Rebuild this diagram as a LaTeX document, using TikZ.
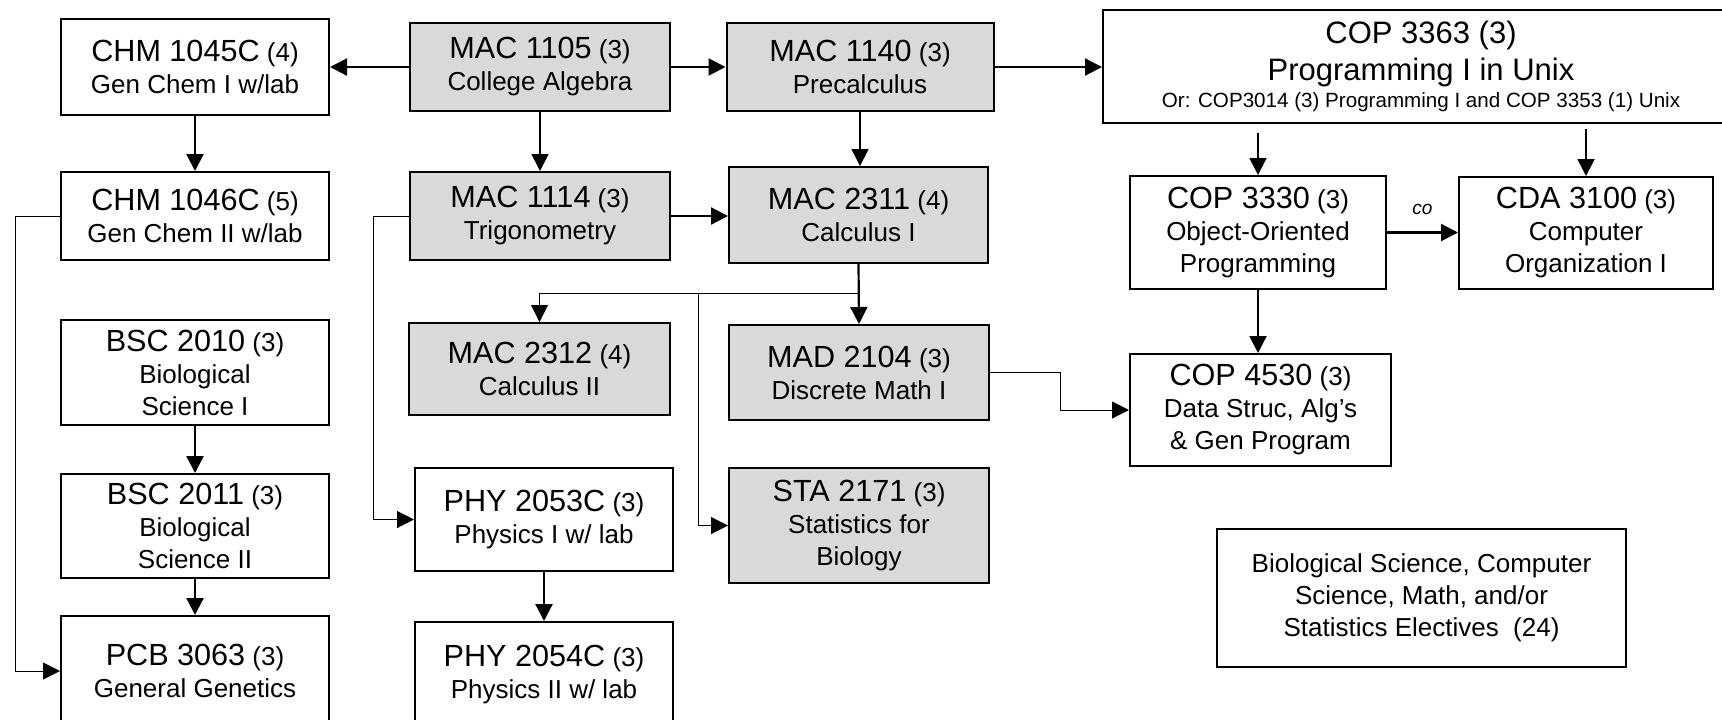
\documentclass[tikz,border=0pt]{standalone}
\usepackage{fontspec}
\setmainfont{Liberation Sans}
\usepackage{xcolor}
\usepackage{tikz}
\usetikzlibrary{arrows.meta,calc,positioning}
\definecolor{mathgray}{RGB}{217,217,217}
\newcommand{\crs}[2]{{\fontsize{15.3}{16}\selectfont #1} (#2)}

\begin{document}
\begin{tikzpicture}[
      x=0.5pt, y=-0.5pt,
      >={Triangle[length=8.5pt, width=8.5pt]},
      course/.style={draw=black, line width=1pt, align=center, inner sep=0pt, font=\fontsize{13}{16}\selectfont},
      mathcourse/.style={course, fill=mathgray},
      prereq/.style={->, line width=1.1pt},
      medprereq/.style={->, line width=0.9pt},
      thinprereq/.style={->, line width=0.5pt},
]
\useasboundingbox (0,0) rectangle (1722,719);

\node[course, minimum width=134pt, minimum height=48pt] (chm1045) at (195,67) {\crs{CHM 1045C}{4}\\Gen Chem I w/lab};
\node[mathcourse, minimum width=130pt, minimum height=44pt] (mac1105) at (540,67) {\crs{MAC 1105}{3}\\College Algebra};
\node[mathcourse, minimum width=133.5pt, minimum height=44pt] (mac1140) at (860,67) {\crs{MAC 1140}{3}\\Precalculus};
\node[course, minimum width=318pt, minimum height=56.5pt, font=\fontsize{15.5}{18.5}\selectfont] (cop3363) at (1421,66.5)
      {COP 3363 (3)\\Programming I in Unix\\[-5pt]{\fontsize{10.3}{13.5}\selectfont Or: COP3014 (3) Programming I and COP 3353 (1) Unix}};

\node[course, minimum width=134pt, minimum height=44pt, below=27.5pt of chm1045] (chm1046) {\crs{CHM 1046C}{5}\\Gen Chem II w/lab};
\node[mathcourse, minimum width=130pt, minimum height=44pt, below=29.5pt of mac1105] (mac1114) {\crs{MAC 1114}{3}\\Trigonometry};
\node[mathcourse, minimum width=129.5pt, minimum height=48pt] (mac2311) at (858.5,215) {\crs{MAC 2311}{4}\\Calculus I};
\node[course, minimum width=127.75pt, minimum height=56.5pt] (cop3330) at (1258,232.5) {\crs{COP 3330}{3}\\Object-Oriented\\Programming};
\node[course, minimum width=127pt, minimum height=56pt] (cda3100) at (1586,233) {\crs{CDA 3100}{3}\\Computer\\Organization I};

\node[course, minimum width=134pt, minimum height=52.5pt] (bsc2010) at (195,372.5) {\crs{BSC 2010}{3}\\Biological\\Science I};
\node[course, minimum width=134pt, minimum height=52pt, below=23.5pt of bsc2010] (bsc2011) {\crs{BSC 2011}{3}\\Biological\\Science II};
\node[course, minimum width=134pt, minimum height=55pt, below=18pt of bsc2011] (pcb3063) {\crs{PCB 3063}{3}\\General Genetics};

\node[mathcourse, minimum width=130.5pt, minimum height=46pt] (mac2312) at (539.5,369) {\crs{MAC 2312}{4}\\Calculus II};
\node[course, minimum width=129pt, minimum height=51.5pt] (phy2053) at (544,519.5) {\crs{PHY 2053C}{3}\\Physics I w/ lab};
\node[course, minimum width=129pt, minimum height=52pt, below=24.5pt of phy2053] (phy2054) {\crs{PHY 2054C}{3}\\Physics II w/ lab};

\node[mathcourse, minimum width=130pt, minimum height=47.5pt] (mad2104) at (859,372.5) {\crs{MAD 2104}{3}\\Discrete Math I};
\node[mathcourse, minimum width=130pt, minimum height=57.5pt] (sta2171) at (859,525.5) {\crs{STA 2171}{3}\\Statistics for\\Biology};
\node[course, minimum width=130.5pt, minimum height=56pt] (cop4530) at (1260.5,410) {\crs{COP 4530}{3}\\Data Struc, Alg's\\\& Gen Program};
\node[course, minimum width=204.5pt, minimum height=69pt] (electives) at (1421.5,598) {Biological Science, Computer\\Science, Math, and/or\\Statistics Electives~ (24)};

\coordinate (chem_rail) at (15,0);
\coordinate (phy_rail) at (373,0);
\coordinate (dm_rail) at (1060,0);
\coordinate (calc_split) at (858.5,293);
\coordinate (sta_split) at (698,293);

\draw[prereq] (mac1105.west) -- (chm1045.east);
\draw[prereq] (mac1105.east) -- (mac1140.west);
\draw[prereq] (mac1140.east) -- (mac1140.east -| cop3363.west);
\draw[prereq] (chm1045.south) -- (chm1046.north);
\draw[medprereq] (mac1105.south) -- (mac1114.north);
\draw[medprereq] (mac1140.south) -- (mac1140.south |- mac2311.north);
\draw[prereq] (mac1114.east) -- (mac1114.east -| mac2311.west);
\draw[thinprereq] (chm1046.west) -- (chm1046.west -| chem_rail) |- (pcb3063.west);
\draw[thinprereq] (mac1114.west) -- (mac1114.west -| phy_rail) |- (phy2053.west);

\draw[prereq] (mac2311.south) -- (mad2104.north);
\draw[thinprereq] (calc_split) -| (mac2312.north);
\draw[thinprereq] (sta_split) |- (sta2171.west);
\draw[thinprereq] (mad2104.east) -- (mad2104.east -| dm_rail) |- (cop4530.west);

\draw[medprereq, shorten <=4.5pt] (cop3330.north |- cop3363.south) -- (cop3330.north);
\draw[medprereq, shorten <=2.5pt] (cda3100.north |- cop3363.south) -- (cda3100.north);
\draw[prereq] (cop3330.east) -- node[above=8.5pt, inner sep=0pt, font=\fontsize{9.5}{11}\selectfont\itshape] (co_label) {co} (cop3330.east -| cda3100.west);
\draw[prereq] (cop3330.south) -- (cop3330.south |- cop4530.north);

\draw[prereq] (bsc2010.south) -- (bsc2011.north);
\draw[prereq] (bsc2011.south) -- (pcb3063.north);
\draw[prereq] (phy2053.south) -- (phy2054.north);

\end{tikzpicture}
\end{document}
